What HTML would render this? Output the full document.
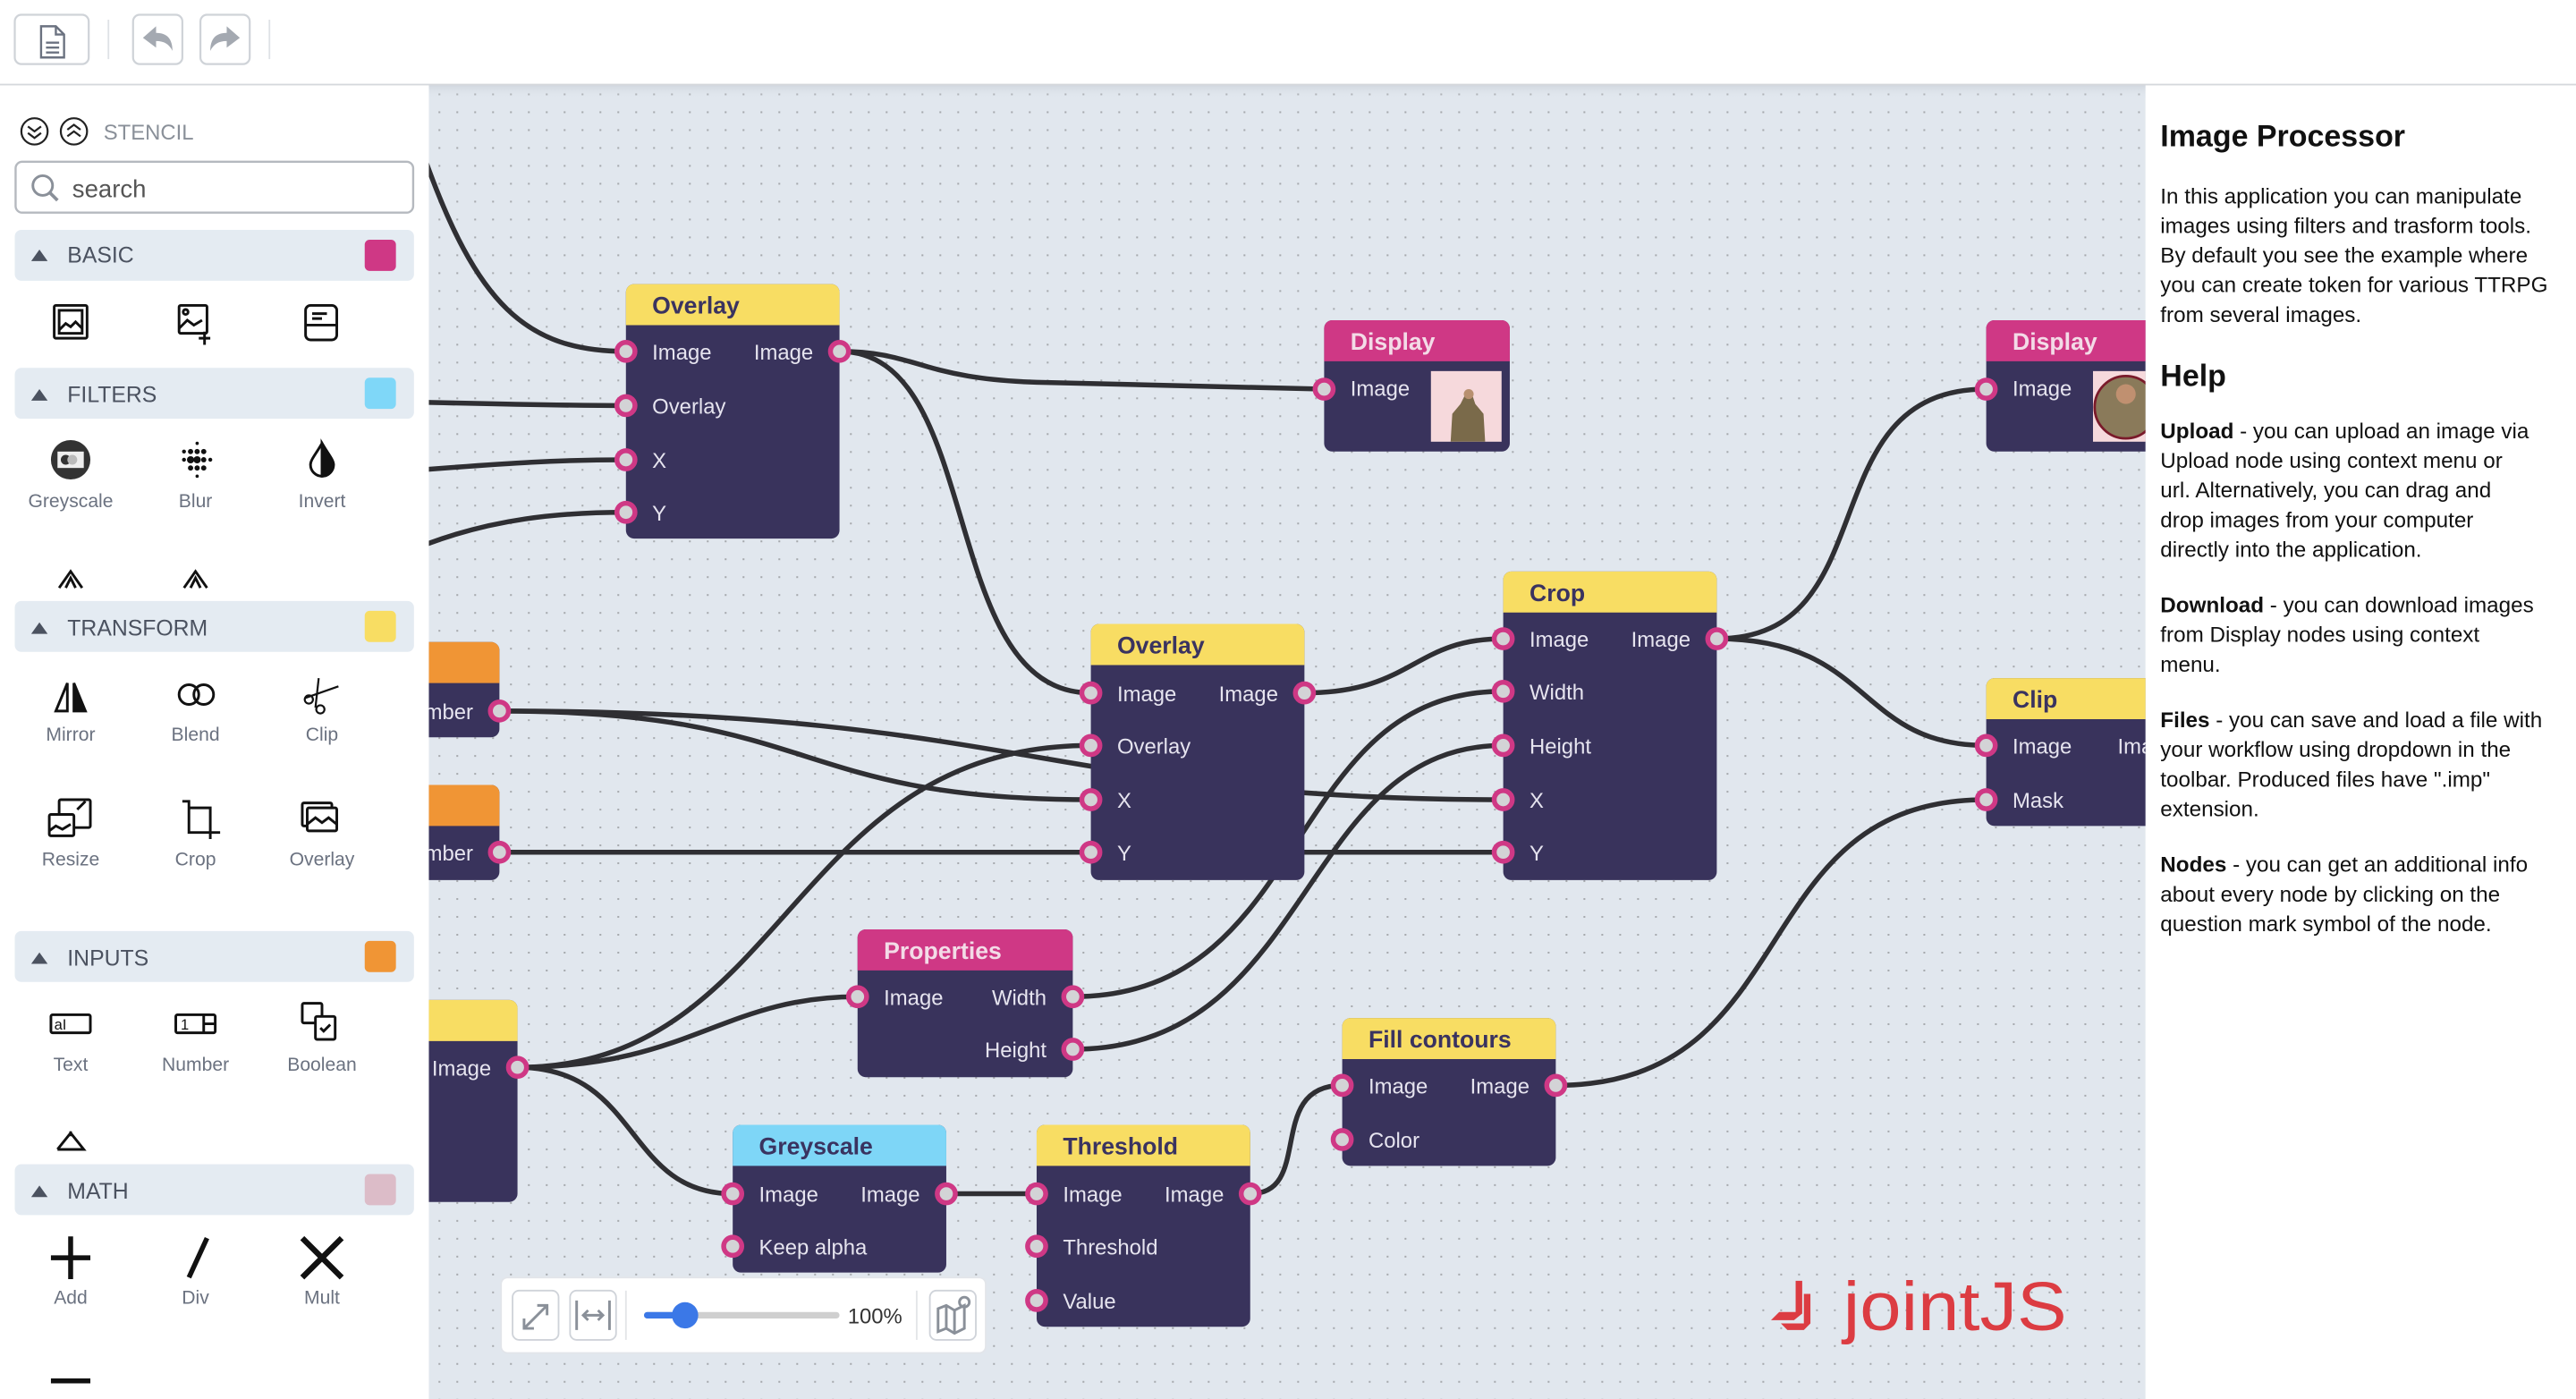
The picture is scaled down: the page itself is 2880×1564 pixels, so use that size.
<!DOCTYPE html>
<html><head><meta charset="utf-8"><style>
html,body{margin:0;padding:0;background:#fff;overflow:hidden}
svg{display:block}
text{font-family:"Liberation Sans",sans-serif}
</style></head><body>
<svg width="2880" height="1564" viewBox="0 0 1568 852" preserveAspectRatio="none" xmlns="http://www.w3.org/2000/svg">
<defs>
<pattern id="dots" x="262" y="52" width="10.89" height="10.89" patternUnits="userSpaceOnUse">
<rect x="4.9" y="4.9" width="1.1" height="1.1" fill="#a6a9ad"/>
</pattern>
<clipPath id="cv"><rect x="261" y="52" width="1045" height="800"/></clipPath>
<linearGradient id="sh" x1="0" y1="0" x2="0" y2="1"><stop offset="0" stop-color="#c8ced6" stop-opacity=".6"/><stop offset="1" stop-color="#e1e7ee" stop-opacity="0"/></linearGradient>
</defs>

<rect x="261" y="52" width="1045" height="800" fill="#e1e7ee"/>
<rect x="261" y="52" width="1045" height="800" fill="url(#dots)"/>
<rect x="261" y="52" width="1045" height="8" fill="url(#sh)"/>

<g clip-path="url(#cv)">
<g fill="none" stroke="#2f2f33" stroke-width="3" stroke-linecap="round">
<path d="M258 95 C290 185,320 214,381 214"/>
<path d="M258 245 C300 246,340 247,381 247"/>
<path d="M258 286 C310 282,340 280,381 280"/>
<path d="M258 332 C300 316,340 312,381 312"/>
<path d="M511 214 C560 214,560 232,640 233 L806 237"/>
<path d="M511 214 C600 214,570 422,664 422"/>
<path d="M794 422 C860 422,860 389,915 389"/>
<path d="M304 433 C500 433,480 487,664 487"/>
<path d="M304 433 C620 433,640 487,915 487"/>
<path d="M304 519 L915 519"/>
<path d="M315 650 C480 650,480 454,664 454"/>
<path d="M315 650 C420 650,440 607,522 607"/>
<path d="M315 650 C390 650,380 727,446 727"/>
<path d="M653 607 C800 607,780 421,915 421"/>
<path d="M653 639 C800 639,790 454,915 454"/>
<path d="M576 727 L631 727"/>
<path d="M761 727 C800 727,770 661,817 661"/>
<path d="M947 661 C1100 661,1060 487,1209 487"/>
<path d="M1045 389 C1150 389,1100 237,1209 237"/>
<path d="M1045 389 C1140 389,1130 454,1209 454"/>
</g>

<g>
<rect x="381" y="173" width="130" height="155" rx="5" fill="#39335c"/>
<path d="M381 198 V178 a5 5 0 0 1 5 -5 H506 a5 5 0 0 1 5 5 V198Z" fill="#f8dd63"/>
<text x="397" y="191" font-size="14.5" font-weight="bold" fill="#3a3360">Overlay</text>
<rect x="806" y="195" width="113" height="80" rx="5" fill="#39335c"/>
<path d="M806 220 V200 a5 5 0 0 1 5 -5 H914 a5 5 0 0 1 5 5 V220Z" fill="#cf3885"/>
<text x="822" y="213" font-size="14.5" font-weight="bold" fill="#f3dbe7">Display</text>
<rect x="871" y="226" width="43" height="43" fill="#f6d9dc"/>
<path d="M883 269 L884 252 L889 246 L892 240 L896 240 L898 246 L903 252 L904 269Z" fill="#7a6a4a"/>
<circle cx="894" cy="240" r="3" fill="#b89070"/>
<rect x="1209" y="195" width="110" height="80" rx="5" fill="#39335c"/>
<path d="M1209 220 V200 a5 5 0 0 1 5 -5 H1314 a5 5 0 0 1 5 5 V220Z" fill="#cf3885"/>
<text x="1225" y="213" font-size="14.5" font-weight="bold" fill="#f3dbe7">Display</text>
<rect x="1274" y="226" width="40" height="43" fill="#f6d9dc"/>
<circle cx="1294" cy="248" r="19" fill="#8a7a5a" stroke="#7a1a2a" stroke-width="1.5"/>
<circle cx="1294" cy="240" r="6" fill="#c09070"/>
<rect x="664" y="380" width="130" height="156" rx="5" fill="#39335c"/>
<path d="M664 405 V385 a5 5 0 0 1 5 -5 H789 a5 5 0 0 1 5 5 V405Z" fill="#f8dd63"/>
<text x="680" y="398" font-size="14.5" font-weight="bold" fill="#3a3360">Overlay</text>
<rect x="915" y="348" width="130" height="188" rx="5" fill="#39335c"/>
<path d="M915 373 V353 a5 5 0 0 1 5 -5 H1040 a5 5 0 0 1 5 5 V373Z" fill="#f8dd63"/>
<text x="931" y="366" font-size="14.5" font-weight="bold" fill="#3a3360">Crop</text>
<rect x="1209" y="413" width="110" height="90" rx="5" fill="#39335c"/>
<path d="M1209 438 V418 a5 5 0 0 1 5 -5 H1314 a5 5 0 0 1 5 5 V438Z" fill="#f8dd63"/>
<text x="1225" y="431" font-size="14.5" font-weight="bold" fill="#3a3360">Clip</text>
<rect x="522" y="566" width="131" height="90" rx="5" fill="#39335c"/>
<path d="M522 591 V571 a5 5 0 0 1 5 -5 H648 a5 5 0 0 1 5 5 V591Z" fill="#cf3885"/>
<text x="538" y="584" font-size="14.5" font-weight="bold" fill="#f3dbe7">Properties</text>
<rect x="817" y="620" width="130" height="90" rx="5" fill="#39335c"/>
<path d="M817 645 V625 a5 5 0 0 1 5 -5 H942 a5 5 0 0 1 5 5 V645Z" fill="#f8dd63"/>
<text x="833" y="638" font-size="14.5" font-weight="bold" fill="#3a3360">Fill contours</text>
<rect x="631" y="685" width="130" height="123" rx="5" fill="#39335c"/>
<path d="M631 710 V690 a5 5 0 0 1 5 -5 H756 a5 5 0 0 1 5 5 V710Z" fill="#f8dd63"/>
<text x="647" y="703" font-size="14.5" font-weight="bold" fill="#3a3360">Threshold</text>
<rect x="446" y="685" width="130" height="90" rx="5" fill="#39335c"/>
<path d="M446 710 V690 a5 5 0 0 1 5 -5 H571 a5 5 0 0 1 5 5 V710Z" fill="#7ed6f7"/>
<text x="462" y="703" font-size="14.5" font-weight="bold" fill="#3a3360">Greyscale</text>
<rect x="240" y="391" width="64" height="58" rx="5" fill="#39335c"/>
<path d="M240 416 V396 a5 5 0 0 1 5 -5 H299 a5 5 0 0 1 5 5 V416Z" fill="#f09535"/>
<rect x="240" y="478" width="64" height="58" rx="5" fill="#39335c"/>
<path d="M240 503 V483 a5 5 0 0 1 5 -5 H299 a5 5 0 0 1 5 5 V503Z" fill="#f09535"/>
<rect x="240" y="609" width="75" height="123" rx="5" fill="#39335c"/>
<path d="M240 634 V614 a5 5 0 0 1 5 -5 H310 a5 5 0 0 1 5 5 V634Z" fill="#f8dd63"/>
</g>

<g font-size="13" fill="#e6e4ef">
<text x="397" y="219">Image</text><text x="495" y="219" text-anchor="end">Image</text>
<text x="397" y="252">Overlay</text><text x="397" y="285">X</text><text x="397" y="317">Y</text>
<text x="822" y="241">Image</text>
<text x="1225" y="241">Image</text>
<text x="680" y="427">Image</text><text x="778" y="427" text-anchor="end">Image</text>
<text x="680" y="459">Overlay</text><text x="680" y="492">X</text><text x="680" y="524">Y</text>
<text x="931" y="394">Image</text><text x="1029" y="394" text-anchor="end">Image</text>
<text x="931" y="426">Width</text><text x="931" y="459">Height</text><text x="931" y="492">X</text><text x="931" y="524">Y</text>
<text x="1225" y="459">Image</text><text x="1289" y="459">Image</text>
<text x="1225" y="492">Mask</text>
<text x="538" y="612">Image</text><text x="637" y="612" text-anchor="end">Width</text>
<text x="637" y="644" text-anchor="end">Height</text>
<text x="833" y="666">Image</text><text x="931" y="666" text-anchor="end">Image</text>
<text x="833" y="699">Color</text>
<text x="647" y="732">Image</text><text x="745" y="732" text-anchor="end">Image</text>
<text x="647" y="764">Threshold</text><text x="647" y="797">Value</text>
<text x="462" y="732">Image</text><text x="560" y="732" text-anchor="end">Image</text>
<text x="462" y="764">Keep alpha</text>
<text x="288" y="438" text-anchor="end">Number</text>
<text x="288" y="524" text-anchor="end">Number</text>
<text x="299" y="655" text-anchor="end">Image</text>
</g>

<g fill="#d3d3d6" stroke="#cf3885" stroke-width="3">
<circle cx="381" cy="214" r="5.5"/><circle cx="511" cy="214" r="5.5"/><circle cx="381" cy="247" r="5.5"/><circle cx="381" cy="280" r="5.5"/><circle cx="381" cy="312" r="5.5"/>
<circle cx="806" cy="237" r="5.5"/><circle cx="1209" cy="237" r="5.5"/>
<circle cx="664" cy="422" r="5.5"/><circle cx="794" cy="422" r="5.5"/><circle cx="664" cy="454" r="5.5"/><circle cx="664" cy="487" r="5.5"/><circle cx="664" cy="519" r="5.5"/>
<circle cx="915" cy="389" r="5.5"/><circle cx="1045" cy="389" r="5.5"/><circle cx="915" cy="421" r="5.5"/><circle cx="915" cy="454" r="5.5"/><circle cx="915" cy="487" r="5.5"/><circle cx="915" cy="519" r="5.5"/>
<circle cx="1209" cy="454" r="5.5"/><circle cx="1209" cy="487" r="5.5"/>
<circle cx="522" cy="607" r="5.5"/><circle cx="653" cy="607" r="5.5"/><circle cx="653" cy="639" r="5.5"/>
<circle cx="817" cy="661" r="5.5"/><circle cx="947" cy="661" r="5.5"/><circle cx="817" cy="694" r="5.5"/>
<circle cx="631" cy="727" r="5.5"/><circle cx="761" cy="727" r="5.5"/><circle cx="631" cy="759" r="5.5"/><circle cx="631" cy="792" r="5.5"/>
<circle cx="446" cy="727" r="5.5"/><circle cx="576" cy="727" r="5.5"/><circle cx="446" cy="759" r="5.5"/>
<circle cx="304" cy="433" r="5.5"/><circle cx="304" cy="519" r="5.5"/><circle cx="315" cy="650" r="5.5"/>
</g>

<g fill="#dc3c42">
<path d="M1093 780 h4 v20 l-5 4 h-14 l5 -5 h10Z"/>
<path d="M1098 788 h4 v18 l-4 4 h-10 l-4 -4 h14Z"/>
<text x="1122" y="810" font-size="42" fill="#dc3c42" textLength="136" lengthAdjust="spacingAndGlyphs">jointJS</text>
</g>
</g>

<rect x="305" y="778" width="295" height="46" rx="4" fill="#fff" stroke="#e2e5ea"/>
<g fill="#fff" stroke="#cfd3d9"><rect x="312" y="786" width="28" height="30" rx="4"/><rect x="347" y="786" width="28" height="30" rx="4"/><rect x="566" y="786" width="28" height="30" rx="4"/></g>
<g stroke="#8a9099" stroke-width="1.6" fill="none">
<path d="M319 809 l14 -14 M327 795 h6 v6 M319 803 v6 h6"/>
<path d="M351 792 v18 M371 792 v18 M355 801 h12 M358 798 l-3 3 3 3 M364 798 l3 3 -3 3"/>
<path d="M571 797 l5 -2 5 3 6 -3 v14 l-6 3 -5 -3 -5 2Z M576 795 v14 M581 798 v14"/>
<circle cx="587" cy="793" r="3"/>
</g>
<line x1="381" y1="786" x2="381" y2="816" stroke="#e3e5e8"/>
<line x1="558" y1="786" x2="558" y2="816" stroke="#e3e5e8"/>
<rect x="392" y="799" width="119" height="4" rx="2" fill="#cfcfcf"/>
<rect x="392" y="799" width="25" height="4" rx="2" fill="#3b78e7"/>
<circle cx="417" cy="801" r="8" fill="#3b78e7"/>
<text x="516" y="806" font-size="13" fill="#333">100%</text>

<rect x="0" y="0" width="1568" height="51" fill="#fff"/>
<line x1="0" y1="51.5" x2="1568" y2="51.5" stroke="#d5d8dc"/>
<g fill="#fff" stroke="#cfd3d8" stroke-width="1.2">
<rect x="9" y="9" width="45" height="30" rx="4"/><rect x="81" y="9" width="30" height="30" rx="4"/><rect x="122" y="9" width="30" height="30" rx="4"/>
</g>
<line x1="66" y1="12" x2="66" y2="36" stroke="#dfe2e6"/><line x1="164" y1="12" x2="164" y2="36" stroke="#dfe2e6"/>
<path d="M25 16 h9 l5 5 v14 h-14Z M28 26 h8 M28 29 h8 M28 32 h8 M34 16 v5 h5" fill="none" stroke="#6b7280" stroke-width="1.3"/>
<path d="M87 23 l8 -7 v4 c7 0 10 4 10 11 c-2 -4 -5 -6 -10 -6 v4Z" fill="#a4a9b1"/>
<path d="M146 23 l-8 -7 v4 c-7 0 -10 4 -10 11 c2 -4 5 -6 10 -6 v4Z" fill="#a4a9b1"/>

<rect x="0" y="52" width="261" height="800" fill="#fff"/>
<g fill="none" stroke="#222" stroke-width="1.2">
<circle cx="21" cy="80" r="8"/><circle cx="45" cy="80" r="8"/>
<path d="M17 77 l4 3 4 -3 M17 81 l4 3 4 -3 M41 83 l4 -3 4 3 M41 79 l4 -3 4 3"/>
</g>
<text x="63" y="85" font-size="13" fill="#8a9099">STENCIL</text>
<rect x="9.5" y="98.5" width="242" height="31" rx="4" fill="#fff" stroke="#b5b9bf" stroke-width="1.3"/>
<circle cx="26" cy="113" r="6" fill="none" stroke="#8a9099" stroke-width="1.6"/>
<path d="M30 117 l5 5" stroke="#8a9099" stroke-width="2"/>
<text x="44" y="120" font-size="15" fill="#555">search</text>

<g font-size="13.5" fill="#4b5260">
<rect x="9" y="140" width="243" height="31" rx="4" fill="#e4ebf2"/>
<path d="M19 159 l5 -7 5 7Z" fill="#4b5260"/><text x="41" y="160">BASIC</text>
<rect x="222" y="146" width="19" height="19" rx="3" fill="#cf3885"/>
<rect x="9" y="224" width="243" height="31" rx="4" fill="#e4ebf2"/>
<path d="M19 244 l5 -7 5 7Z" fill="#4b5260"/><text x="41" y="245">FILTERS</text>
<rect x="222" y="230" width="19" height="19" rx="3" fill="#7fd7f8"/>
<rect x="9" y="366" width="243" height="31" rx="4" fill="#e4ebf2"/>
<path d="M19 386 l5 -7 5 7Z" fill="#4b5260"/><text x="41" y="387">TRANSFORM</text>
<rect x="222" y="372" width="19" height="19" rx="3" fill="#f8dd63"/>
<rect x="9" y="567" width="243" height="31" rx="4" fill="#e4ebf2"/>
<path d="M19 587 l5 -7 5 7Z" fill="#4b5260"/><text x="41" y="588">INPUTS</text>
<rect x="222" y="573" width="19" height="19" rx="3" fill="#f09535"/>
<rect x="9" y="709" width="243" height="31" rx="4" fill="#e4ebf2"/>
<path d="M19 729 l5 -7 5 7Z" fill="#4b5260"/><text x="41" y="730">MATH</text>
<rect x="222" y="715" width="19" height="19" rx="3" fill="#dcbcc8"/>
</g>

<g fill="none" stroke="#111" stroke-width="1.6">
<rect x="33" y="186" width="20" height="20" rx="1"/><rect x="36" y="189" width="14" height="14"/><path d="M36 201 l4 -4 3 2 3 -3 4 4"/>
<rect x="109" y="186" width="17" height="17" rx="1"/><circle cx="113" cy="190" r="1.5"/><path d="M109 200 l5 -5 4 3 5 -3 M121 206 h7 M124.5 202 v8"/>
<rect x="186" y="186" width="19" height="21" rx="3"/><path d="M186 198 h19 M190 191 h9 M190 194 h6"/>
<circle cx="43" cy="280" r="12" fill="#333" stroke="none"/><rect x="35" y="275" width="16" height="10" fill="#eee" stroke="none"/><circle cx="40" cy="280" r="3" fill="#333" stroke="none"/><circle cx="44" cy="280" r="3" fill="#bbb" stroke="none"/>
<path d="M196 270 c-4 7 -7 10 -7 13 a7 7 0 0 0 14 0 c0 -3 -3 -6 -7 -13Z"/><path d="M196 270 v20 a7 7 0 0 0 7 -7 c0 -3 -3 -6 -7 -13Z" fill="#111"/>
<path d="M36 358 l7 -10 7 10 M40 358 l3 -6 3 6"/><path d="M112 358 l7 -10 7 10 M116 358 l3 -6 3 6"/>
<path d="M34 433 l7 -17 v17Z"/><path d="M45 433 v-17 l7 17Z" fill="#111"/>
<circle cx="115" cy="423" r="6"/><circle cx="124" cy="423" r="6"/>
<path d="M194 413 l-2 18 M186 425 l20 -7" stroke-width="1.2"/><circle cx="188" cy="426" r="2.5" stroke-width="1.2"/><circle cx="195" cy="432" r="2.5" stroke-width="1.2"/>
<rect x="36" y="487" width="19" height="17" rx="1"/><rect x="30" y="496" width="15" height="13" rx="1" fill="#fff"/><path d="M30 506 l4 -3 4 2 5 -3 M47 493 l5 -5"/>
<path d="M111 488 h4 v19 h19 M115 492 h13 v15 M128 507 v4"/>
<rect x="184" y="489" width="18" height="14" rx="1"/><rect x="187" y="492" width="18" height="14" rx="1" fill="#fff"/><path d="M187 502 l5 -4 4 3 4 -3 5 4"/>
<rect x="31" y="618" width="24" height="11" rx="1"/><text x="33" y="627" font-size="9" fill="#111" stroke="none">aI</text>
<rect x="107" y="618" width="24" height="11" rx="1"/><path d="M124 618 v11 M124 623.5 h7"/><text x="110" y="627" font-size="9" fill="#111" stroke="none">1</text>
<rect x="184" y="611" width="12" height="12" rx="1"/><rect x="192" y="619" width="12" height="14" rx="1" fill="#fff"/><path d="M195 626 l2 2 4 -4"/>
<path d="M35 700 l8 -10 8 10 h-16 M43 692 v-3"/>
<path d="M43 753 v26 M31 766 h24" stroke-width="3"/>
<path d="M126 754 l-11 24" stroke-width="3"/>
<path d="M184 754 l24 24 M208 754 l-24 24" stroke-width="3.5"/>
<path d="M31 841 h24" stroke-width="3"/>
</g>
<g font-size="11.5" fill="#6b7280" text-anchor="middle">
<text x="43" y="309">Greyscale</text><text x="119" y="309">Blur</text><text x="196" y="309">Invert</text>
<text x="43" y="451">Mirror</text><text x="119" y="451">Blend</text><text x="196" y="451">Clip</text>
<text x="43" y="527">Resize</text><text x="119" y="527">Crop</text><text x="196" y="527">Overlay</text>
<text x="43" y="652">Text</text><text x="119" y="652">Number</text><text x="196" y="652">Boolean</text>
<text x="43" y="794">Add</text><text x="119" y="794">Div</text><text x="196" y="794">Mult</text>
</g>
<g fill="#111"><circle cx="112" cy="275" r="1.2"/><circle cx="116" cy="275" r="1.6"/><circle cx="120" cy="275" r="1.6"/><circle cx="124" cy="275" r="1.6"/><circle cx="116" cy="280" r="2.2"/><circle cx="120" cy="280" r="2.2"/><circle cx="124" cy="280" r="1.6"/><circle cx="112" cy="280" r="1.2"/><circle cx="128" cy="280" r="1.2"/><circle cx="116" cy="285" r="1.6"/><circle cx="120" cy="285" r="1.6"/><circle cx="124" cy="285" r="1.6"/><circle cx="120" cy="270" r="1"/><circle cx="120" cy="290" r="1"/></g>

<rect x="1306" y="52" width="262" height="800" fill="#fff"/>
<g font-size="13.2" fill="#111">
<text x="1315" y="89" font-size="18.5" font-weight="bold">Image Processor</text>
<text x="1315" y="124">In this application you can manipulate</text>
<text x="1315" y="142">images using filters and trasform tools.</text>
<text x="1315" y="160">By default you see the example where</text>
<text x="1315" y="178">you can create token for various TTRPG</text>
<text x="1315" y="196">from several images.</text>
<text x="1315" y="235" font-size="18.5" font-weight="bold">Help</text>
<text x="1315" y="267"><tspan font-weight="bold">Upload</tspan> - you can upload an image via</text>
<text x="1315" y="285">Upload node using context menu or</text>
<text x="1315" y="303">url. Alternatively, you can drag and</text>
<text x="1315" y="321">drop images from your computer</text>
<text x="1315" y="339">directly into the application.</text>
<text x="1315" y="373"><tspan font-weight="bold">Download</tspan> - you can download images</text>
<text x="1315" y="391">from Display nodes using context</text>
<text x="1315" y="409">menu.</text>
<text x="1315" y="443"><tspan font-weight="bold">Files</tspan> - you can save and load a file with</text>
<text x="1315" y="461">your workflow using dropdown in the</text>
<text x="1315" y="479">toolbar. Produced files have ".imp"</text>
<text x="1315" y="497">extension.</text>
<text x="1315" y="531"><tspan font-weight="bold">Nodes</tspan> - you can get an additional info</text>
<text x="1315" y="549">about every node by clicking on the</text>
<text x="1315" y="567">question mark symbol of the node.</text>
</g>
</svg>
</body></html>
